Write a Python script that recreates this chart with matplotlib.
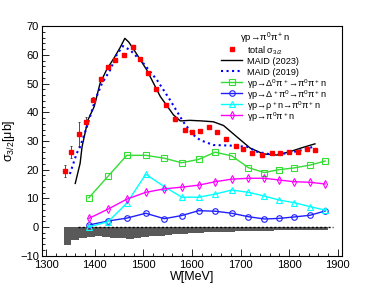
import numpy as np
import matplotlib
matplotlib.use('Agg')
import matplotlib.pyplot as plt
from matplotlib.ticker import MultipleLocator

plt.rcParams['font.family'] = ['Liberation Sans', 'DejaVu Sans']
plt.rcParams['mathtext.fontset'] = 'custom'
plt.rcParams['mathtext.rm'] = 'Liberation Sans'
plt.rcParams['mathtext.it'] = 'Liberation Sans'
plt.rcParams['mathtext.default'] = 'rm'

# total sigma_3/2 data
W_tot = [1338, 1352, 1368, 1383, 1397, 1413, 1427, 1442, 1460, 1479, 1494, 1510,
         1526, 1546, 1565, 1585, 1601, 1617, 1636, 1652, 1670, 1691, 1706, 1724,
         1744, 1764, 1781, 1799, 1819, 1836, 1853]
sig_tot = [19.6, 26.2, 32.3, 36.6, 44.4, 51.5, 55.9, 58.2, 59.9, 62.9, 58.5, 53.7,
           48.0, 42.6, 37.6, 33.8, 33.1, 33.6, 34.8, 33.2, 30.8, 28.4, 27.2, 25.7,
           25.0, 25.9, 25.7, 26.2, 26.2, 27.1, 26.9]
err_tot = [2.2, 2.0, 4.2, 1.7, 0.8, 0.6, 0.6, 0.6, 0.6, 0.6, 0.6, 0.6,
           0.6, 0.6, 0.6, 0.6, 0.6, 0.6, 0.6, 0.6, 0.6, 0.6, 0.6, 0.6,
           0.6, 0.6, 0.6, 0.6, 0.6, 0.6, 0.6]

# MAID curves
W_m23 = [1360, 1370, 1374, 1386, 1399, 1411, 1425, 1440, 1452, 1462, 1470, 1480,
         1507, 1535, 1562, 1576, 1596, 1620, 1644, 1665, 1692, 1720, 1747, 1775,
         1802, 1829, 1853]
sig_m23 = [15.2, 22.2, 28.0, 37.3, 42.0, 50.1, 55.0, 59.0, 62.5, 65.8, 64.5, 62.0,
           54.8, 45.5, 39.1, 37.0, 37.2, 37.0, 36.7, 35.4, 31.5, 27.5, 25.5, 25.1,
           26.3, 27.8, 29.0]
W_m19 = [1349, 1363, 1370, 1384, 1401, 1415, 1432, 1445, 1458, 1473, 1500, 1528,
         1555, 1582, 1603, 1617, 1644, 1679, 1713, 1733, 1768, 1802, 1830, 1850]
sig_m19 = [18.5, 25.7, 28.0, 35.0, 44.3, 50.1, 54.8, 60.0, 63.1, 61.7, 57.1, 51.3,
           44.3, 36.7, 32.1, 30.3, 28.6, 28.4, 28.0, 26.3, 25.1, 25.9, 27.0, 28.0]

# channel contributions
W_ch = [1388, 1428, 1466, 1505, 1543, 1579, 1614, 1648, 1682, 1716, 1749, 1779,
        1810, 1843, 1874]
sig_delta0 = [10.2, 17.8, 25.0, 25.0, 24.0, 22.4, 23.6, 26.1, 24.8, 20.7, 19.0, 20.0,
              20.6, 21.6, 23.0]
sig_deltap = [0.7, 2.1, 3.1, 4.8, 2.9, 4.0, 5.7, 5.5, 4.8, 3.6, 2.8, 3.0,
              3.5, 4.1, 5.6]
sig_rho = [0.0, 1.9, 8.3, 18.4, 14.1, 10.4, 10.4, 11.5, 12.9, 12.1, 10.8, 9.4,
           8.5, 7.1, 5.9]
sig_npi = [3.0, 6.3, 9.7, 12.1, 13.3, 13.9, 14.6, 15.8, 16.7, 17.0, 17.0, 16.4,
           15.8, 15.6, 15.0]

# systematic band (histogram)
sys_edges = [1336, 1352, 1368, 1384, 1400, 1416, 1432, 1448, 1464, 1480, 1496, 1512,
             1528, 1544, 1560, 1576, 1592, 1608, 1624, 1640, 1656, 1672, 1688, 1704,
             1720, 1736, 1752, 1768, 1784, 1800, 1816, 1832, 1848, 1864, 1880]
sys_vals = [-6.3, -4.7, -3.9, -3.4, -3.3, -3.5, -3.8, -4.0, -4.1, -3.8, -3.5, -3.2,
            -3.0, -2.7, -2.5, -2.3, -2.1, -2.0, -1.9, -1.8, -1.7, -1.6, -1.5, -1.4,
            -1.4, -1.3, -1.3, -1.2, -1.2, -1.1, -1.1, -1.0, -1.0, -1.0]

fig = plt.figure(figsize=(3.74, 2.88), dpi=100)
ax = fig.add_axes([0.1115, 0.1122, 0.8021, 0.7965])

ax.stairs(sys_vals, sys_edges, baseline=0, fill=True, color='#595959', lw=0)
ax.hlines(0, 1365, 1890, colors='k', linestyles=(0, (1.5, 1.5)), lw=1.0)

ax.errorbar(W_tot, sig_tot, yerr=err_tot, fmt='s', color='red', ms=3.5,
            ecolor='#333333', elinewidth=0.6, capsize=1, capthick=0.6)
ax.plot(W_m23, sig_m23, '-', color='black', lw=1.0)
ax.plot(W_m19, sig_m19, ':', color='blue', lw=1.5)

styles = [
    dict(marker='s', color='#33dd33'),
    dict(marker='o', color='#2020ff'),
    dict(marker='^', color='cyan'),
    dict(marker='d', color='magenta'),
]
for vals, st in zip([sig_delta0, sig_deltap, sig_rho, sig_npi], styles):
    ax.plot(W_ch, vals, '-', mfc='none', ms=4, mew=0.8, lw=1.0, **st)

ax.set_xlim(1291, 1908)
ax.set_ylim(-10, 70)
ax.xaxis.set_major_locator(MultipleLocator(100))
ax.xaxis.set_minor_locator(MultipleLocator(20))
ax.yaxis.set_major_locator(MultipleLocator(10))
ax.yaxis.set_minor_locator(MultipleLocator(2))
ax.tick_params(which='both', direction='in', top=False, right=False, labelsize=8)
ax.tick_params(which='major', length=5, width=0.6)
ax.tick_params(which='minor', length=2.5, width=0.6)
ax.tick_params(axis='y', pad=2)
ax.tick_params(axis='x', pad=3)
for s in ax.spines.values():
    s.set_linewidth(0.8)

ax.set_xlabel('W[MeV]', fontsize=9, labelpad=1)
ax.set_ylabel('σ$_{3/2}$[μb]', fontsize=9, labelpad=2)

# legend drawn by hand (ROOT style, tight rows)
ax.text(0.744, 0.959, 'γp→π$^0$π$^+$n', transform=ax.transAxes, fontsize=6.8,
        ha='center', va='center_baseline')
leg_labels = ['total σ$_{3/2}$', 'MAID (2023)', 'MAID (2019)',
              'γp→Δ$^0$π$^+$→π$^0$π$^+$n', 'γp→Δ$^+$π$^0$→π$^0$π$^+$n',
              'γp→ρ$^+$n→π$^0$π$^+$n', 'γp→π$^0$π$^+$n']
leg_handles = [dict(ls='none', marker='s', color='red', ms=3.5),
               dict(ls='-', color='black', lw=1.0),
               dict(ls=':', color='blue', lw=1.5)] + \
              [dict(ls='-', mfc='none', ms=4, mew=0.8, lw=1.0, **st) for st in styles]
x0, x1, xt = 0.598, 0.669, 0.683
for i, (lab, hs) in enumerate(zip(leg_labels, leg_handles)):
    y = 0.90 - 0.0477 * i
    if hs.get('ls') == 'none':
        ax.plot([(x0 + x1) / 2], [y], transform=ax.transAxes, clip_on=False, **hs)
    else:
        mk = hs.pop('marker', None)
        ax.plot([x0, x1], [y, y], transform=ax.transAxes, clip_on=False, **hs)
        if mk:
            ax.plot([(x0 + x1) / 2], [y], transform=ax.transAxes, clip_on=False,
                    marker=mk, **hs)
    ax.text(xt, y, lab, transform=ax.transAxes, fontsize=6.6, ha='left',
            va='center_baseline')

fig.savefig('out.png', dpi=100)
